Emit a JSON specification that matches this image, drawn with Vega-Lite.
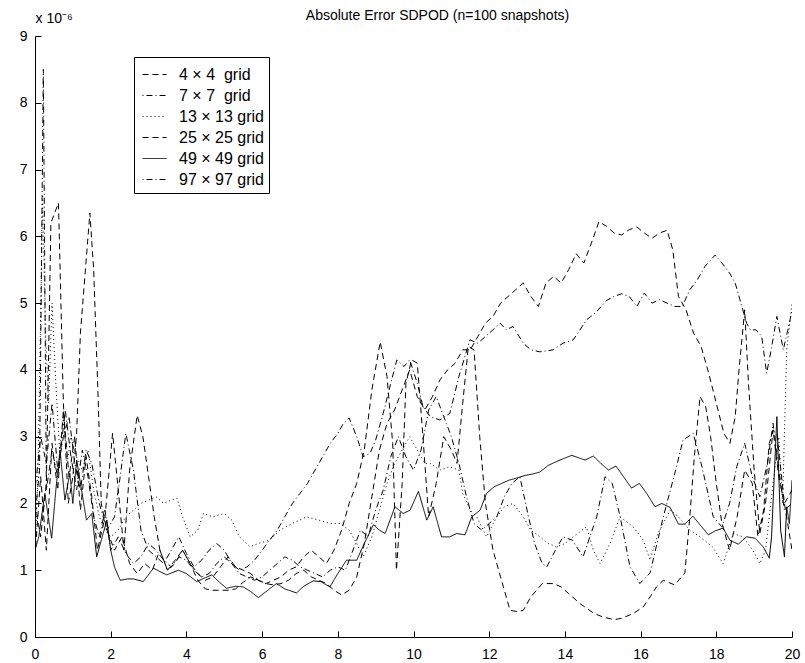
{
  "$schema": "https://vega.github.io/schema/vega-lite/v6.json",
  "autosize": "none",
  "width": 757,
  "height": 601,
  "padding": {"left": 35, "top": 36, "right": 13, "bottom": 26},
  "background": "white",
  "config": {
    "view": {"stroke": null},
    "font": "Liberation Sans",
    "axis": {"grid": false, "domainColor": "black", "tickColor": "black", "labelColor": "black", "labelFont": "Liberation Sans", "labelFontSize": 14, "tickSize": -6, "domainWidth": 1, "tickWidth": 1}
  },
  "title": {"text": "Absolute Error SDPOD (n=100 snapshots)", "frame": "group", "anchor": "middle", "dx": 24, "offset": -12, "fontSize": 14, "fontWeight": "normal", "font": "Liberation Sans", "color": "black"},
  "data": {"values": [
    {"s":"4 × 4  grid","x":0.0,"y":1.2},{"s":"4 × 4  grid","x":0.15,"y":2.4},{"s":"4 × 4  grid","x":0.3,"y":1.3},{"s":"4 × 4  grid","x":0.45,"y":2.9},{"s":"4 × 4  grid","x":0.6,"y":2.2},{"s":"4 × 4  grid","x":0.75,"y":3.4},{"s":"4 × 4  grid","x":0.9,"y":2.4},{"s":"4 × 4  grid","x":1.05,"y":3.0},{"s":"4 × 4  grid","x":1.2,"y":1.9},{"s":"4 × 4  grid","x":1.35,"y":2.7},{"s":"4 × 4  grid","x":1.5,"y":2.1},{"s":"4 × 4  grid","x":1.65,"y":1.3},{"s":"4 × 4  grid","x":1.85,"y":1.8},{"s":"4 × 4  grid","x":2.05,"y":3.05},{"s":"4 × 4  grid","x":2.2,"y":2.2},{"s":"4 × 4  grid","x":2.35,"y":1.3},{"s":"4 × 4  grid","x":2.5,"y":2.5},{"s":"4 × 4  grid","x":2.7,"y":3.32},{"s":"4 × 4  grid","x":2.85,"y":3.0},{"s":"4 × 4  grid","x":3.0,"y":2.4},{"s":"4 × 4  grid","x":3.15,"y":1.8},{"s":"4 × 4  grid","x":3.3,"y":1.3},{"s":"4 × 4  grid","x":3.5,"y":1.0},{"s":"4 × 4  grid","x":3.7,"y":1.1},{"s":"4 × 4  grid","x":3.9,"y":1.3},{"s":"4 × 4  grid","x":4.1,"y":1.1},{"s":"4 × 4  grid","x":4.3,"y":0.95},{"s":"4 × 4  grid","x":4.5,"y":0.85},{"s":"4 × 4  grid","x":4.7,"y":0.9},{"s":"4 × 4  grid","x":4.9,"y":1.05},{"s":"4 × 4  grid","x":5.1,"y":1.2},{"s":"4 × 4  grid","x":5.3,"y":1.05},{"s":"4 × 4  grid","x":5.5,"y":1.0},{"s":"4 × 4  grid","x":5.7,"y":0.95},{"s":"4 × 4  grid","x":5.9,"y":0.85},{"s":"4 × 4  grid","x":6.1,"y":0.8},{"s":"4 × 4  grid","x":6.3,"y":0.85},{"s":"4 × 4  grid","x":6.5,"y":0.9},{"s":"4 × 4  grid","x":6.7,"y":1.0},{"s":"4 × 4  grid","x":6.9,"y":1.05},{"s":"4 × 4  grid","x":7.1,"y":1.2},{"s":"4 × 4  grid","x":7.3,"y":1.3},{"s":"4 × 4  grid","x":7.5,"y":1.2},{"s":"4 × 4  grid","x":7.7,"y":1.1},{"s":"4 × 4  grid","x":7.9,"y":1.3},{"s":"4 × 4  grid","x":8.1,"y":1.6},{"s":"4 × 4  grid","x":8.3,"y":2.0},{"s":"4 × 4  grid","x":8.5,"y":2.3},{"s":"4 × 4  grid","x":8.7,"y":2.8},{"s":"4 × 4  grid","x":8.9,"y":3.7},{"s":"4 × 4  grid","x":9.12,"y":4.42},{"s":"4 × 4  grid","x":9.3,"y":3.9},{"s":"4 × 4  grid","x":9.45,"y":2.9},{"s":"4 × 4  grid","x":9.55,"y":1.0},{"s":"4 × 4  grid","x":9.7,"y":2.3},{"s":"4 × 4  grid","x":9.8,"y":3.8},{"s":"4 × 4  grid","x":9.95,"y":4.15},{"s":"4 × 4  grid","x":10.1,"y":4.1},{"s":"4 × 4  grid","x":10.25,"y":3.0},{"s":"4 × 4  grid","x":10.4,"y":1.8},{"s":"4 × 4  grid","x":10.6,"y":2.3},{"s":"4 × 4  grid","x":10.8,"y":3.0},{"s":"4 × 4  grid","x":11.0,"y":2.8},{"s":"4 × 4  grid","x":11.15,"y":2.6},{"s":"4 × 4  grid","x":11.3,"y":3.5},{"s":"4 × 4  grid","x":11.45,"y":4.35},{"s":"4 × 4  grid","x":11.6,"y":4.3},{"s":"4 × 4  grid","x":11.75,"y":3.0},{"s":"4 × 4  grid","x":11.9,"y":2.0},{"s":"4 × 4  grid","x":12.1,"y":1.3},{"s":"4 × 4  grid","x":12.3,"y":0.9},{"s":"4 × 4  grid","x":12.55,"y":0.4},{"s":"4 × 4  grid","x":12.75,"y":0.38},{"s":"4 × 4  grid","x":12.9,"y":0.4},{"s":"4 × 4  grid","x":13.1,"y":0.6},{"s":"4 × 4  grid","x":13.4,"y":0.8},{"s":"4 × 4  grid","x":13.7,"y":0.8},{"s":"4 × 4  grid","x":13.9,"y":0.75},{"s":"4 × 4  grid","x":14.1,"y":0.65},{"s":"4 × 4  grid","x":14.4,"y":0.5},{"s":"4 × 4  grid","x":14.75,"y":0.36},{"s":"4 × 4  grid","x":15.0,"y":0.3},{"s":"4 × 4  grid","x":15.3,"y":0.26},{"s":"4 × 4  grid","x":15.5,"y":0.28},{"s":"4 × 4  grid","x":15.8,"y":0.35},{"s":"4 × 4  grid","x":16.07,"y":0.45},{"s":"4 × 4  grid","x":16.25,"y":0.6},{"s":"4 × 4  grid","x":16.42,"y":0.75},{"s":"4 × 4  grid","x":16.6,"y":0.85},{"s":"4 × 4  grid","x":16.9,"y":0.78},{"s":"4 × 4  grid","x":17.17,"y":0.96},{"s":"4 × 4  grid","x":17.3,"y":1.8},{"s":"4 × 4  grid","x":17.42,"y":2.7},{"s":"4 × 4  grid","x":17.57,"y":3.6},{"s":"4 × 4  grid","x":17.72,"y":3.45},{"s":"4 × 4  grid","x":17.85,"y":3.0},{"s":"4 × 4  grid","x":18.0,"y":2.3},{"s":"4 × 4  grid","x":18.14,"y":1.73},{"s":"4 × 4  grid","x":18.35,"y":1.3},{"s":"4 × 4  grid","x":18.55,"y":1.8},{"s":"4 × 4  grid","x":18.75,"y":2.5},{"s":"4 × 4  grid","x":18.95,"y":2.3},{"s":"4 × 4  grid","x":19.1,"y":1.5},{"s":"4 × 4  grid","x":19.25,"y":1.9},{"s":"4 × 4  grid","x":19.4,"y":2.9},{"s":"4 × 4  grid","x":19.5,"y":3.1},{"s":"4 × 4  grid","x":19.65,"y":2.4},{"s":"4 × 4  grid","x":19.8,"y":2.0},{"s":"4 × 4  grid","x":20.0,"y":1.3},

    {"s":"7 × 7  grid","x":0.0,"y":2.2},{"s":"7 × 7  grid","x":0.15,"y":3.0},{"s":"7 × 7  grid","x":0.3,"y":2.6},{"s":"7 × 7  grid","x":0.45,"y":3.5},{"s":"7 × 7  grid","x":0.6,"y":2.5},{"s":"7 × 7  grid","x":0.75,"y":3.0},{"s":"7 × 7  grid","x":0.9,"y":3.3},{"s":"7 × 7  grid","x":1.05,"y":2.6},{"s":"7 × 7  grid","x":1.2,"y":2.2},{"s":"7 × 7  grid","x":1.35,"y":2.8},{"s":"7 × 7  grid","x":1.5,"y":2.6},{"s":"7 × 7  grid","x":1.7,"y":2.0},{"s":"7 × 7  grid","x":1.9,"y":1.6},{"s":"7 × 7  grid","x":2.1,"y":1.8},{"s":"7 × 7  grid","x":2.25,"y":2.4},{"s":"7 × 7  grid","x":2.4,"y":3.05},{"s":"7 × 7  grid","x":2.6,"y":2.5},{"s":"7 × 7  grid","x":2.8,"y":1.6},{"s":"7 × 7  grid","x":3.0,"y":1.3},{"s":"7 × 7  grid","x":3.2,"y":1.2},{"s":"7 × 7  grid","x":3.4,"y":1.1},{"s":"7 × 7  grid","x":3.6,"y":1.3},{"s":"7 × 7  grid","x":3.8,"y":1.5},{"s":"7 × 7  grid","x":4.0,"y":1.25},{"s":"7 × 7  grid","x":4.2,"y":1.05},{"s":"7 × 7  grid","x":4.4,"y":1.15},{"s":"7 × 7  grid","x":4.6,"y":1.3},{"s":"7 × 7  grid","x":4.8,"y":1.4},{"s":"7 × 7  grid","x":5.0,"y":1.3},{"s":"7 × 7  grid","x":5.2,"y":1.1},{"s":"7 × 7  grid","x":5.4,"y":0.95},{"s":"7 × 7  grid","x":5.6,"y":0.9},{"s":"7 × 7  grid","x":5.8,"y":0.85},{"s":"7 × 7  grid","x":6.0,"y":0.9},{"s":"7 × 7  grid","x":6.2,"y":1.0},{"s":"7 × 7  grid","x":6.4,"y":1.1},{"s":"7 × 7  grid","x":6.6,"y":1.2},{"s":"7 × 7  grid","x":6.8,"y":1.15},{"s":"7 × 7  grid","x":7.0,"y":1.05},{"s":"7 × 7  grid","x":7.2,"y":1.0},{"s":"7 × 7  grid","x":7.4,"y":0.95},{"s":"7 × 7  grid","x":7.6,"y":0.9},{"s":"7 × 7  grid","x":7.8,"y":1.0},{"s":"7 × 7  grid","x":8.0,"y":1.05},{"s":"7 × 7  grid","x":8.2,"y":1.0},{"s":"7 × 7  grid","x":8.4,"y":1.3},{"s":"7 × 7  grid","x":8.6,"y":1.6},{"s":"7 × 7  grid","x":8.8,"y":1.5},{"s":"7 × 7  grid","x":9.0,"y":1.9},{"s":"7 × 7  grid","x":9.2,"y":2.2},{"s":"7 × 7  grid","x":9.4,"y":2.7},{"s":"7 × 7  grid","x":9.6,"y":3.0},{"s":"7 × 7  grid","x":9.8,"y":2.7},{"s":"7 × 7  grid","x":10.0,"y":2.5},{"s":"7 × 7  grid","x":10.2,"y":2.8},{"s":"7 × 7  grid","x":10.4,"y":3.4},{"s":"7 × 7  grid","x":10.6,"y":3.6},{"s":"7 × 7  grid","x":10.8,"y":3.3},{"s":"7 × 7  grid","x":11.0,"y":3.0},{"s":"7 × 7  grid","x":11.2,"y":2.6},{"s":"7 × 7  grid","x":11.4,"y":2.1},{"s":"7 × 7  grid","x":11.6,"y":1.7},{"s":"7 × 7  grid","x":11.8,"y":1.6},{"s":"7 × 7  grid","x":12.0,"y":1.7},{"s":"7 × 7  grid","x":12.2,"y":1.8},{"s":"7 × 7  grid","x":12.4,"y":2.1},{"s":"7 × 7  grid","x":12.6,"y":2.3},{"s":"7 × 7  grid","x":12.81,"y":2.4},{"s":"7 × 7  grid","x":13.0,"y":1.9},{"s":"7 × 7  grid","x":13.2,"y":1.4},{"s":"7 × 7  grid","x":13.4,"y":1.1},{"s":"7 × 7  grid","x":13.52,"y":1.05},{"s":"7 × 7  grid","x":13.75,"y":1.3},{"s":"7 × 7  grid","x":13.95,"y":1.5},{"s":"7 × 7  grid","x":14.2,"y":1.45},{"s":"7 × 7  grid","x":14.48,"y":1.2},{"s":"7 × 7  grid","x":14.84,"y":1.8},{"s":"7 × 7  grid","x":15.06,"y":2.4},{"s":"7 × 7  grid","x":15.25,"y":2.3},{"s":"7 × 7  grid","x":15.46,"y":1.8},{"s":"7 × 7  grid","x":15.72,"y":1.05},{"s":"7 × 7  grid","x":15.98,"y":0.8},{"s":"7 × 7  grid","x":16.25,"y":0.96},{"s":"7 × 7  grid","x":16.6,"y":1.8},{"s":"7 × 7  grid","x":16.95,"y":2.55},{"s":"7 × 7  grid","x":17.12,"y":2.95},{"s":"7 × 7  grid","x":17.39,"y":3.05},{"s":"7 × 7  grid","x":17.6,"y":2.6},{"s":"7 × 7  grid","x":17.92,"y":1.8},{"s":"7 × 7  grid","x":18.15,"y":1.65},{"s":"7 × 7  grid","x":18.35,"y":2.0},{"s":"7 × 7  grid","x":18.54,"y":2.55},{"s":"7 × 7  grid","x":18.75,"y":2.9},{"s":"7 × 7  grid","x":18.95,"y":2.4},{"s":"7 × 7  grid","x":19.15,"y":2.1},{"s":"7 × 7  grid","x":19.35,"y":2.6},{"s":"7 × 7  grid","x":19.5,"y":3.2},{"s":"7 × 7  grid","x":19.65,"y":2.5},{"s":"7 × 7  grid","x":19.8,"y":1.9},{"s":"7 × 7  grid","x":20.0,"y":2.0},

    {"s":"13 × 13 grid","x":0.0,"y":1.2},{"s":"13 × 13 grid","x":0.08,"y":2.5},{"s":"13 × 13 grid","x":0.14,"y":4.5},{"s":"13 × 13 grid","x":0.2,"y":6.6},{"s":"13 × 13 grid","x":0.28,"y":4.5},{"s":"13 × 13 grid","x":0.36,"y":3.5},{"s":"13 × 13 grid","x":0.45,"y":5.0},{"s":"13 × 13 grid","x":0.55,"y":3.8},{"s":"13 × 13 grid","x":0.65,"y":2.8},{"s":"13 × 13 grid","x":0.75,"y":3.3},{"s":"13 × 13 grid","x":0.85,"y":2.6},{"s":"13 × 13 grid","x":0.95,"y":3.0},{"s":"13 × 13 grid","x":1.1,"y":2.7},{"s":"13 × 13 grid","x":1.25,"y":2.5},{"s":"13 × 13 grid","x":1.4,"y":2.8},{"s":"13 × 13 grid","x":1.55,"y":2.2},{"s":"13 × 13 grid","x":1.7,"y":1.8},{"s":"13 × 13 grid","x":1.85,"y":1.6},{"s":"13 × 13 grid","x":2.0,"y":1.5},{"s":"13 × 13 grid","x":2.2,"y":1.6},{"s":"13 × 13 grid","x":2.4,"y":1.8},{"s":"13 × 13 grid","x":2.6,"y":1.9},{"s":"13 × 13 grid","x":2.8,"y":2.0},{"s":"13 × 13 grid","x":3.0,"y":2.05},{"s":"13 × 13 grid","x":3.2,"y":2.1},{"s":"13 × 13 grid","x":3.4,"y":2.0},{"s":"13 × 13 grid","x":3.6,"y":2.05},{"s":"13 × 13 grid","x":3.75,"y":2.08},{"s":"13 × 13 grid","x":3.9,"y":1.8},{"s":"13 × 13 grid","x":4.1,"y":1.5},{"s":"13 × 13 grid","x":4.3,"y":1.6},{"s":"13 × 13 grid","x":4.45,"y":1.85},{"s":"13 × 13 grid","x":4.7,"y":1.8},{"s":"13 × 13 grid","x":5.0,"y":1.85},{"s":"13 × 13 grid","x":5.2,"y":1.75},{"s":"13 × 13 grid","x":5.4,"y":1.5},{"s":"13 × 13 grid","x":5.68,"y":1.35},{"s":"13 × 13 grid","x":5.9,"y":1.4},{"s":"13 × 13 grid","x":6.2,"y":1.45},{"s":"13 × 13 grid","x":6.47,"y":1.6},{"s":"13 × 13 grid","x":6.8,"y":1.7},{"s":"13 × 13 grid","x":7.18,"y":1.8},{"s":"13 × 13 grid","x":7.5,"y":1.75},{"s":"13 × 13 grid","x":7.8,"y":1.7},{"s":"13 × 13 grid","x":8.06,"y":1.7},{"s":"13 × 13 grid","x":8.3,"y":1.6},{"s":"13 × 13 grid","x":8.5,"y":1.4},{"s":"13 × 13 grid","x":8.67,"y":1.2},{"s":"13 × 13 grid","x":8.9,"y":1.5},{"s":"13 × 13 grid","x":9.1,"y":1.9},{"s":"13 × 13 grid","x":9.3,"y":2.3},{"s":"13 × 13 grid","x":9.5,"y":2.6},{"s":"13 × 13 grid","x":9.7,"y":2.8},{"s":"13 × 13 grid","x":9.9,"y":3.0},{"s":"13 × 13 grid","x":10.1,"y":2.8},{"s":"13 × 13 grid","x":10.3,"y":2.6},{"s":"13 × 13 grid","x":10.44,"y":2.6},{"s":"13 × 13 grid","x":10.7,"y":2.5},{"s":"13 × 13 grid","x":10.95,"y":2.55},{"s":"13 × 13 grid","x":11.2,"y":2.5},{"s":"13 × 13 grid","x":11.3,"y":2.15},{"s":"13 × 13 grid","x":11.5,"y":1.9},{"s":"13 × 13 grid","x":11.67,"y":1.8},{"s":"13 × 13 grid","x":11.93,"y":1.5},{"s":"13 × 13 grid","x":12.2,"y":1.8},{"s":"13 × 13 grid","x":12.4,"y":1.95},{"s":"13 × 13 grid","x":12.63,"y":2.0},{"s":"13 × 13 grid","x":12.9,"y":1.8},{"s":"13 × 13 grid","x":13.1,"y":1.6},{"s":"13 × 13 grid","x":13.34,"y":1.5},{"s":"13 × 13 grid","x":13.56,"y":1.4},{"s":"13 × 13 grid","x":13.78,"y":1.35},{"s":"13 × 13 grid","x":14.0,"y":1.4},{"s":"13 × 13 grid","x":14.22,"y":1.5},{"s":"13 × 13 grid","x":14.57,"y":1.65},{"s":"13 × 13 grid","x":14.75,"y":1.3},{"s":"13 × 13 grid","x":14.93,"y":1.1},{"s":"13 × 13 grid","x":15.19,"y":1.4},{"s":"13 × 13 grid","x":15.46,"y":1.8},{"s":"13 × 13 grid","x":15.8,"y":1.65},{"s":"13 × 13 grid","x":16.07,"y":1.45},{"s":"13 × 13 grid","x":16.25,"y":1.15},{"s":"13 × 13 grid","x":16.46,"y":1.55},{"s":"13 × 13 grid","x":16.78,"y":1.9},{"s":"13 × 13 grid","x":17.0,"y":1.8},{"s":"13 × 13 grid","x":17.3,"y":1.6},{"s":"13 × 13 grid","x":17.57,"y":1.5},{"s":"13 × 13 grid","x":17.9,"y":1.35},{"s":"13 × 13 grid","x":18.18,"y":1.1},{"s":"13 × 13 grid","x":18.45,"y":1.55},{"s":"13 × 13 grid","x":18.7,"y":1.5},{"s":"13 × 13 grid","x":18.97,"y":1.3},{"s":"13 × 13 grid","x":19.15,"y":1.1},{"s":"13 × 13 grid","x":19.3,"y":1.3},{"s":"13 × 13 grid","x":19.5,"y":2.3},{"s":"13 × 13 grid","x":19.65,"y":3.0},{"s":"13 × 13 grid","x":19.75,"y":2.0},{"s":"13 × 13 grid","x":19.86,"y":4.3},{"s":"13 × 13 grid","x":20.0,"y":5.0},

    {"s":"25 × 25 grid","x":0.0,"y":2.0},{"s":"25 × 25 grid","x":0.15,"y":1.5},{"s":"25 × 25 grid","x":0.3,"y":2.3},{"s":"25 × 25 grid","x":0.42,"y":6.2},{"s":"25 × 25 grid","x":0.62,"y":6.5},{"s":"25 × 25 grid","x":0.75,"y":3.5},{"s":"25 × 25 grid","x":0.88,"y":2.0},{"s":"25 × 25 grid","x":1.0,"y":2.4},{"s":"25 × 25 grid","x":1.1,"y":3.05},{"s":"25 × 25 grid","x":1.2,"y":4.55},{"s":"25 × 25 grid","x":1.45,"y":6.35},{"s":"25 × 25 grid","x":1.55,"y":5.5},{"s":"25 × 25 grid","x":1.67,"y":3.55},{"s":"25 × 25 grid","x":1.75,"y":2.0},{"s":"25 × 25 grid","x":1.9,"y":1.6},{"s":"25 × 25 grid","x":2.1,"y":1.3},{"s":"25 × 25 grid","x":2.3,"y":1.5},{"s":"25 × 25 grid","x":2.5,"y":1.1},{"s":"25 × 25 grid","x":2.7,"y":0.95},{"s":"25 × 25 grid","x":2.9,"y":1.1},{"s":"25 × 25 grid","x":3.1,"y":1.0},{"s":"25 × 25 grid","x":3.3,"y":1.3},{"s":"25 × 25 grid","x":3.5,"y":1.0},{"s":"25 × 25 grid","x":3.7,"y":1.15},{"s":"25 × 25 grid","x":3.9,"y":1.3},{"s":"25 × 25 grid","x":4.1,"y":1.1},{"s":"25 × 25 grid","x":4.3,"y":0.85},{"s":"25 × 25 grid","x":4.5,"y":0.72},{"s":"25 × 25 grid","x":4.7,"y":0.7},{"s":"25 × 25 grid","x":4.9,"y":0.7},{"s":"25 × 25 grid","x":5.1,"y":0.7},{"s":"25 × 25 grid","x":5.3,"y":0.72},{"s":"25 × 25 grid","x":5.5,"y":0.82},{"s":"25 × 25 grid","x":5.7,"y":0.9},{"s":"25 × 25 grid","x":5.9,"y":0.85},{"s":"25 × 25 grid","x":6.1,"y":0.8},{"s":"25 × 25 grid","x":6.3,"y":0.78},{"s":"25 × 25 grid","x":6.5,"y":0.8},{"s":"25 × 25 grid","x":6.7,"y":0.85},{"s":"25 × 25 grid","x":6.9,"y":0.95},{"s":"25 × 25 grid","x":7.1,"y":1.0},{"s":"25 × 25 grid","x":7.3,"y":0.9},{"s":"25 × 25 grid","x":7.5,"y":0.85},{"s":"25 × 25 grid","x":7.7,"y":0.8},{"s":"25 × 25 grid","x":7.9,"y":0.7},{"s":"25 × 25 grid","x":8.1,"y":0.63},{"s":"25 × 25 grid","x":8.3,"y":0.7},{"s":"25 × 25 grid","x":8.5,"y":0.9},{"s":"25 × 25 grid","x":8.7,"y":1.4},{"s":"25 × 25 grid","x":8.9,"y":2.1},{"s":"25 × 25 grid","x":9.1,"y":2.8},{"s":"25 × 25 grid","x":9.3,"y":3.2},{"s":"25 × 25 grid","x":9.5,"y":3.4},{"s":"25 × 25 grid","x":9.7,"y":3.7},{"s":"25 × 25 grid","x":9.9,"y":4.0},{"s":"25 × 25 grid","x":10.1,"y":3.6},{"s":"25 × 25 grid","x":10.3,"y":3.4},{"s":"25 × 25 grid","x":10.5,"y":3.6},{"s":"25 × 25 grid","x":10.7,"y":3.85},{"s":"25 × 25 grid","x":10.9,"y":4.0},{"s":"25 × 25 grid","x":11.1,"y":4.1},{"s":"25 × 25 grid","x":11.3,"y":4.3},{"s":"25 × 25 grid","x":11.5,"y":4.3},{"s":"25 × 25 grid","x":11.7,"y":4.5},{"s":"25 × 25 grid","x":11.9,"y":4.7},{"s":"25 × 25 grid","x":12.1,"y":4.8},{"s":"25 × 25 grid","x":12.3,"y":5.0},{"s":"25 × 25 grid","x":12.5,"y":5.1},{"s":"25 × 25 grid","x":12.7,"y":5.2},{"s":"25 × 25 grid","x":12.9,"y":5.3},{"s":"25 × 25 grid","x":13.1,"y":5.1},{"s":"25 × 25 grid","x":13.3,"y":4.95},{"s":"25 × 25 grid","x":13.5,"y":5.3},{"s":"25 × 25 grid","x":13.7,"y":5.4},{"s":"25 × 25 grid","x":13.9,"y":5.3},{"s":"25 × 25 grid","x":14.1,"y":5.5},{"s":"25 × 25 grid","x":14.3,"y":5.74},{"s":"25 × 25 grid","x":14.5,"y":5.6},{"s":"25 × 25 grid","x":14.7,"y":5.9},{"s":"25 × 25 grid","x":14.9,"y":6.22},{"s":"25 × 25 grid","x":15.1,"y":6.15},{"s":"25 × 25 grid","x":15.3,"y":6.05},{"s":"25 × 25 grid","x":15.5,"y":6.02},{"s":"25 × 25 grid","x":15.7,"y":6.1},{"s":"25 × 25 grid","x":15.9,"y":6.14},{"s":"25 × 25 grid","x":16.1,"y":6.05},{"s":"25 × 25 grid","x":16.3,"y":5.97},{"s":"25 × 25 grid","x":16.5,"y":6.05},{"s":"25 × 25 grid","x":16.7,"y":6.09},{"s":"25 × 25 grid","x":16.85,"y":5.8},{"s":"25 × 25 grid","x":17.0,"y":5.1},{"s":"25 × 25 grid","x":17.2,"y":4.9},{"s":"25 × 25 grid","x":17.4,"y":4.55},{"s":"25 × 25 grid","x":17.6,"y":4.35},{"s":"25 × 25 grid","x":17.8,"y":3.95},{"s":"25 × 25 grid","x":18.0,"y":3.5},{"s":"25 × 25 grid","x":18.2,"y":3.05},{"s":"25 × 25 grid","x":18.36,"y":2.9},{"s":"25 × 25 grid","x":18.5,"y":3.3},{"s":"25 × 25 grid","x":18.6,"y":4.0},{"s":"25 × 25 grid","x":18.75,"y":4.9},{"s":"25 × 25 grid","x":18.85,"y":3.8},{"s":"25 × 25 grid","x":19.0,"y":2.5},{"s":"25 × 25 grid","x":19.15,"y":1.55},{"s":"25 × 25 grid","x":19.3,"y":2.0},{"s":"25 × 25 grid","x":19.5,"y":3.1},{"s":"25 × 25 grid","x":19.6,"y":3.05},{"s":"25 × 25 grid","x":19.8,"y":2.0},{"s":"25 × 25 grid","x":20.0,"y":2.2},

    {"s":"49 × 49 grid","x":0.0,"y":1.3},{"s":"49 × 49 grid","x":0.1,"y":1.5},{"s":"49 × 49 grid","x":0.26,"y":2.15},{"s":"49 × 49 grid","x":0.35,"y":1.8},{"s":"49 × 49 grid","x":0.44,"y":1.48},{"s":"49 × 49 grid","x":0.55,"y":2.2},{"s":"49 × 49 grid","x":0.66,"y":2.8},{"s":"49 × 49 grid","x":0.79,"y":2.05},{"s":"49 × 49 grid","x":0.92,"y":2.45},{"s":"49 × 49 grid","x":1.0,"y":2.0},{"s":"49 × 49 grid","x":1.1,"y":2.65},{"s":"49 × 49 grid","x":1.23,"y":2.2},{"s":"49 × 49 grid","x":1.36,"y":1.75},{"s":"49 × 49 grid","x":1.5,"y":1.85},{"s":"49 × 49 grid","x":1.63,"y":1.2},{"s":"49 × 49 grid","x":1.8,"y":1.55},{"s":"49 × 49 grid","x":1.9,"y":1.75},{"s":"49 × 49 grid","x":2.0,"y":1.3},{"s":"49 × 49 grid","x":2.1,"y":1.05},{"s":"49 × 49 grid","x":2.25,"y":0.85},{"s":"49 × 49 grid","x":2.45,"y":0.87},{"s":"49 × 49 grid","x":2.6,"y":0.87},{"s":"49 × 49 grid","x":2.86,"y":0.83},{"s":"49 × 49 grid","x":3.13,"y":1.03},{"s":"49 × 49 grid","x":3.3,"y":0.98},{"s":"49 × 49 grid","x":3.48,"y":0.93},{"s":"49 × 49 grid","x":3.79,"y":1.0},{"s":"49 × 49 grid","x":4.0,"y":0.95},{"s":"49 × 49 grid","x":4.27,"y":0.83},{"s":"49 × 49 grid","x":4.47,"y":0.88},{"s":"49 × 49 grid","x":4.67,"y":0.93},{"s":"49 × 49 grid","x":4.87,"y":0.82},{"s":"49 × 49 grid","x":5.06,"y":0.73},{"s":"49 × 49 grid","x":5.3,"y":0.76},{"s":"49 × 49 grid","x":5.5,"y":0.75},{"s":"49 × 49 grid","x":5.7,"y":0.68},{"s":"49 × 49 grid","x":5.9,"y":0.59},{"s":"49 × 49 grid","x":6.15,"y":0.7},{"s":"49 × 49 grid","x":6.38,"y":0.8},{"s":"49 × 49 grid","x":6.6,"y":0.72},{"s":"49 × 49 grid","x":6.91,"y":0.66},{"s":"49 × 49 grid","x":7.1,"y":0.76},{"s":"49 × 49 grid","x":7.35,"y":0.84},{"s":"49 × 49 grid","x":7.55,"y":0.83},{"s":"49 × 49 grid","x":7.79,"y":0.75},{"s":"49 × 49 grid","x":8.0,"y":0.95},{"s":"49 × 49 grid","x":8.23,"y":1.15},{"s":"49 × 49 grid","x":8.5,"y":1.15},{"s":"49 × 49 grid","x":8.7,"y":1.4},{"s":"49 × 49 grid","x":8.94,"y":1.68},{"s":"49 × 49 grid","x":9.1,"y":1.6},{"s":"49 × 49 grid","x":9.25,"y":1.55},{"s":"49 × 49 grid","x":9.51,"y":1.95},{"s":"49 × 49 grid","x":9.73,"y":1.85},{"s":"49 × 49 grid","x":9.91,"y":1.9},{"s":"49 × 49 grid","x":10.13,"y":2.18},{"s":"49 × 49 grid","x":10.35,"y":1.75},{"s":"49 × 49 grid","x":10.52,"y":1.95},{"s":"49 × 49 grid","x":10.74,"y":1.5},{"s":"49 × 49 grid","x":10.96,"y":1.5},{"s":"49 × 49 grid","x":11.14,"y":1.55},{"s":"49 × 49 grid","x":11.36,"y":1.53},{"s":"49 × 49 grid","x":11.54,"y":1.8},{"s":"49 × 49 grid","x":11.76,"y":1.9},{"s":"49 × 49 grid","x":11.93,"y":2.15},{"s":"49 × 49 grid","x":12.13,"y":2.25},{"s":"49 × 49 grid","x":12.33,"y":2.3},{"s":"49 × 49 grid","x":12.53,"y":2.35},{"s":"49 × 49 grid","x":12.73,"y":2.38},{"s":"49 × 49 grid","x":12.95,"y":2.42},{"s":"49 × 49 grid","x":13.14,"y":2.44},{"s":"49 × 49 grid","x":13.34,"y":2.47},{"s":"49 × 49 grid","x":13.56,"y":2.57},{"s":"49 × 49 grid","x":13.87,"y":2.65},{"s":"49 × 49 grid","x":14.18,"y":2.72},{"s":"49 × 49 grid","x":14.53,"y":2.65},{"s":"49 × 49 grid","x":14.75,"y":2.71},{"s":"49 × 49 grid","x":14.95,"y":2.6},{"s":"49 × 49 grid","x":15.15,"y":2.5},{"s":"49 × 49 grid","x":15.35,"y":2.56},{"s":"49 × 49 grid","x":15.55,"y":2.4},{"s":"49 × 49 grid","x":15.76,"y":2.23},{"s":"49 × 49 grid","x":15.97,"y":2.3},{"s":"49 × 49 grid","x":16.16,"y":2.15},{"s":"49 × 49 grid","x":16.38,"y":1.95},{"s":"49 × 49 grid","x":16.56,"y":2.0},{"s":"49 × 49 grid","x":16.78,"y":1.94},{"s":"49 × 49 grid","x":17.0,"y":1.69},{"s":"49 × 49 grid","x":17.17,"y":1.69},{"s":"49 × 49 grid","x":17.38,"y":1.81},{"s":"49 × 49 grid","x":17.57,"y":1.68},{"s":"49 × 49 grid","x":17.79,"y":1.53},{"s":"49 × 49 grid","x":17.97,"y":1.59},{"s":"49 × 49 grid","x":18.18,"y":1.63},{"s":"49 × 49 grid","x":18.36,"y":1.45},{"s":"49 × 49 grid","x":18.58,"y":1.39},{"s":"49 × 49 grid","x":18.8,"y":1.5},{"s":"49 × 49 grid","x":19.02,"y":1.48},{"s":"49 × 49 grid","x":19.24,"y":1.35},{"s":"49 × 49 grid","x":19.4,"y":1.18},{"s":"49 × 49 grid","x":19.46,"y":1.5},{"s":"49 × 49 grid","x":19.6,"y":3.3},{"s":"49 × 49 grid","x":19.7,"y":1.6},{"s":"49 × 49 grid","x":19.8,"y":1.2},{"s":"49 × 49 grid","x":19.86,"y":1.95},{"s":"49 × 49 grid","x":19.93,"y":1.7},{"s":"49 × 49 grid","x":20.0,"y":2.35},

    {"s":"97 × 97 grid","x":0.0,"y":1.8},{"s":"97 × 97 grid","x":0.12,"y":2.5},{"s":"97 × 97 grid","x":0.22,"y":8.5},{"s":"97 × 97 grid","x":0.3,"y":2.2},{"s":"97 × 97 grid","x":0.45,"y":2.8},{"s":"97 × 97 grid","x":0.6,"y":2.4},{"s":"97 × 97 grid","x":0.8,"y":3.4},{"s":"97 × 97 grid","x":0.95,"y":2.7},{"s":"97 × 97 grid","x":1.1,"y":2.2},{"s":"97 × 97 grid","x":1.25,"y":2.8},{"s":"97 × 97 grid","x":1.4,"y":2.4},{"s":"97 × 97 grid","x":1.55,"y":1.8},{"s":"97 × 97 grid","x":1.7,"y":1.5},{"s":"97 × 97 grid","x":1.85,"y":1.9},{"s":"97 × 97 grid","x":2.0,"y":1.3},{"s":"97 × 97 grid","x":2.2,"y":1.5},{"s":"97 × 97 grid","x":2.4,"y":1.25},{"s":"97 × 97 grid","x":2.6,"y":1.1},{"s":"97 × 97 grid","x":2.8,"y":1.2},{"s":"97 × 97 grid","x":3.0,"y":1.4},{"s":"97 × 97 grid","x":3.2,"y":1.3},{"s":"97 × 97 grid","x":3.4,"y":1.15},{"s":"97 × 97 grid","x":3.6,"y":1.05},{"s":"97 × 97 grid","x":3.8,"y":1.2},{"s":"97 × 97 grid","x":4.0,"y":1.15},{"s":"97 × 97 grid","x":4.2,"y":1.0},{"s":"97 × 97 grid","x":4.4,"y":0.9},{"s":"97 × 97 grid","x":4.6,"y":0.95},{"s":"97 × 97 grid","x":4.8,"y":1.1},{"s":"97 × 97 grid","x":5.0,"y":1.2},{"s":"97 × 97 grid","x":5.2,"y":1.1},{"s":"97 × 97 grid","x":5.4,"y":1.0},{"s":"97 × 97 grid","x":5.6,"y":1.05},{"s":"97 × 97 grid","x":5.8,"y":1.15},{"s":"97 × 97 grid","x":6.0,"y":1.3},{"s":"97 × 97 grid","x":6.2,"y":1.45},{"s":"97 × 97 grid","x":6.4,"y":1.6},{"s":"97 × 97 grid","x":6.6,"y":1.8},{"s":"97 × 97 grid","x":6.8,"y":2.0},{"s":"97 × 97 grid","x":7.0,"y":2.15},{"s":"97 × 97 grid","x":7.2,"y":2.3},{"s":"97 × 97 grid","x":7.4,"y":2.5},{"s":"97 × 97 grid","x":7.6,"y":2.7},{"s":"97 × 97 grid","x":7.8,"y":2.9},{"s":"97 × 97 grid","x":8.0,"y":3.05},{"s":"97 × 97 grid","x":8.15,"y":3.2},{"s":"97 × 97 grid","x":8.3,"y":3.28},{"s":"97 × 97 grid","x":8.5,"y":3.0},{"s":"97 × 97 grid","x":8.67,"y":2.7},{"s":"97 × 97 grid","x":8.85,"y":2.75},{"s":"97 × 97 grid","x":9.0,"y":2.95},{"s":"97 × 97 grid","x":9.2,"y":3.35},{"s":"97 × 97 grid","x":9.4,"y":3.8},{"s":"97 × 97 grid","x":9.56,"y":4.15},{"s":"97 × 97 grid","x":9.75,"y":4.05},{"s":"97 × 97 grid","x":9.9,"y":4.15},{"s":"97 × 97 grid","x":10.1,"y":3.8},{"s":"97 × 97 grid","x":10.25,"y":3.45},{"s":"97 × 97 grid","x":10.44,"y":3.3},{"s":"97 × 97 grid","x":10.7,"y":3.25},{"s":"97 × 97 grid","x":10.96,"y":3.35},{"s":"97 × 97 grid","x":11.2,"y":3.9},{"s":"97 × 97 grid","x":11.49,"y":4.45},{"s":"97 × 97 grid","x":11.7,"y":4.4},{"s":"97 × 97 grid","x":11.9,"y":4.5},{"s":"97 × 97 grid","x":12.1,"y":4.6},{"s":"97 × 97 grid","x":12.29,"y":4.7},{"s":"97 × 97 grid","x":12.45,"y":4.6},{"s":"97 × 97 grid","x":12.63,"y":4.65},{"s":"97 × 97 grid","x":12.9,"y":4.4},{"s":"97 × 97 grid","x":13.1,"y":4.3},{"s":"97 × 97 grid","x":13.34,"y":4.27},{"s":"97 × 97 grid","x":13.69,"y":4.3},{"s":"97 × 97 grid","x":13.95,"y":4.4},{"s":"97 × 97 grid","x":14.22,"y":4.45},{"s":"97 × 97 grid","x":14.4,"y":4.6},{"s":"97 × 97 grid","x":14.57,"y":4.75},{"s":"97 × 97 grid","x":14.8,"y":4.85},{"s":"97 × 97 grid","x":15.1,"y":5.04},{"s":"97 × 97 grid","x":15.3,"y":5.1},{"s":"97 × 97 grid","x":15.5,"y":5.14},{"s":"97 × 97 grid","x":15.7,"y":5.1},{"s":"97 × 97 grid","x":15.9,"y":4.95},{"s":"97 × 97 grid","x":16.1,"y":5.15},{"s":"97 × 97 grid","x":16.3,"y":5.0},{"s":"97 × 97 grid","x":16.5,"y":5.05},{"s":"97 × 97 grid","x":16.7,"y":5.0},{"s":"97 × 97 grid","x":16.9,"y":4.95},{"s":"97 × 97 grid","x":17.1,"y":4.95},{"s":"97 × 97 grid","x":17.3,"y":5.2},{"s":"97 × 97 grid","x":17.5,"y":5.35},{"s":"97 × 97 grid","x":17.7,"y":5.55},{"s":"97 × 97 grid","x":17.97,"y":5.72},{"s":"97 × 97 grid","x":18.15,"y":5.6},{"s":"97 × 97 grid","x":18.35,"y":5.45},{"s":"97 × 97 grid","x":18.5,"y":5.3},{"s":"97 × 97 grid","x":18.65,"y":5.0},{"s":"97 × 97 grid","x":18.8,"y":4.7},{"s":"97 × 97 grid","x":18.9,"y":4.6},{"s":"97 × 97 grid","x":19.05,"y":4.6},{"s":"97 × 97 grid","x":19.2,"y":4.5},{"s":"97 × 97 grid","x":19.33,"y":3.95},{"s":"97 × 97 grid","x":19.45,"y":4.3},{"s":"97 × 97 grid","x":19.6,"y":4.8},{"s":"97 × 97 grid","x":19.77,"y":4.3},{"s":"97 × 97 grid","x":19.95,"y":4.75},{"s":"97 × 97 grid","x":20.0,"y":4.9}
  ]},
  "mark": {"type": "line", "color": "black", "strokeWidth": 1, "clip": true},
  "encoding": {
    "x": {"field": "x", "type": "quantitative", "scale": {"domain": [0, 20], "nice": false, "zero": false},
      "axis": {"values": [0,2,4,6,8,10,12,14,16,18,20], "title": null, "labelFlush": false, "labelOverlap": false, "labelPadding": 16, "format": "d"}},
    "y": {"field": "y", "type": "quantitative", "scale": {"domain": [0, 9], "nice": false},
      "axis": {"values": [0,1,2,3,4,5,6,7,8,9], "title": "x 10⁻⁶", "titleAngle": 0, "titleAlign": "left", "titleBaseline": "alphabetic", "titleX": 0, "titleY": -14, "titleFontSize": 14, "titleFontWeight": "normal", "titleFont": "Liberation Sans", "titleColor": "black", "labelFlush": false, "labelOverlap": false, "labelPadding": 14, "format": "d"}},
    "strokeDash": {"field": "s", "type": "nominal",
      "scale": {"domain": ["4 × 4  grid","7 × 7  grid","13 × 13 grid","25 × 25 grid","49 × 49 grid","97 × 97 grid"],
                "range": [[6,4],[1,3,6,3],[1,3],[6,4],[1,0],[1,3,6,3]]},
      "legend": {"title": null, "orient": "none", "legendX": 99, "legendY": 21, "symbolType": "stroke", "symbolSize": 576, "symbolOffset": 3, "symbolStrokeColor": "black", "symbolStrokeWidth": 1, "rowPadding": -5, "labelFontSize": 16, "labelFont": "Liberation Sans", "labelColor": "black", "labelOffset": 12, "padding": 5, "strokeColor": "black", "fillColor": "white", "labelLimit": 200, "labelExpr": "replace(datum.label, '  ', ' \u00a0')"}}
  }
}
